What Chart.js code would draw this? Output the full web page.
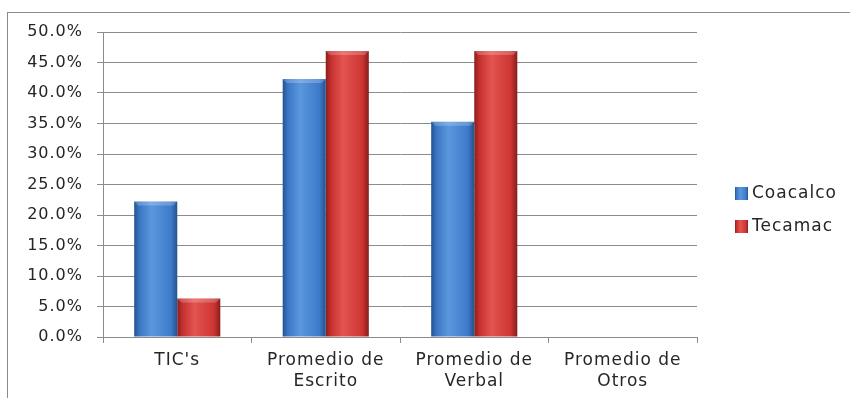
<!DOCTYPE html>
<html>
<head>
<meta charset="utf-8">
<script src="https://cdn.jsdelivr.net/npm/chart.js@4/dist/chart.umd.min.js"></script>
<style>
  html, body { margin: 0; padding: 0; background: #fff; overflow: hidden; }
  #frame {
    position: absolute; left: 7px; top: 12px; width: 900px; height: 450px;
    border: 1px solid #8a8a8a; box-sizing: border-box;
  }
  #wrap { position: absolute; left: 0; top: 0; width: 850px; height: 398px; }
</style>
</head>
<body>
<div id="frame"></div>
<div id="wrap"><canvas id="chart" width="850" height="398"></canvas></div>
<script>
const categories = [["TIC's"], ['Promedio de', 'Escrito'], ['Promedio de', 'Verbal'], ['Promedio de', 'Otros']];
const coacalco = [22.2, 42.3, 35.3, 0];
const tecamac = [6.3, 46.9, 46.9, 0];
const yTicks = [0, 5, 10, 15, 20, 25, 30, 35, 40, 45, 50];

const FONT = '"DejaVu Sans", Verdana, sans-serif';
const TEXT = '#262626';
const GRID = '#8c8c8c';
const CAT_PCT = 0.58;

// dark edge -> highlight -> dark edge, like the old office bevelled bars
const BLUE = ['#23538f', '#3a76c4', '#5b97dd', '#3d7bcb', '#24528c'];
const RED = ['#8a1e1e', '#c5302e', '#e45450', '#cc3532', '#871d1d'];

function hGradient(ctx2d, left, right, stops) {
  const g = ctx2d.createLinearGradient(left, 0, right, 0);
  g.addColorStop(0, stops[0]);
  g.addColorStop(0.12, stops[1]);
  g.addColorStop(0.4, stops[2]);
  g.addColorStop(0.85, stops[3]);
  g.addColorStop(1, stops[4]);
  return g;
}

function shadeBar(ctx, stops) {
  const chart = ctx.chart;
  const x = chart.scales.x;
  if (!x || !chart.chartArea || ctx.dataIndex === undefined) return stops[2];
  const center = x.getPixelForValue(ctx.dataIndex);
  const barW = (x.width / categories.length) * CAT_PCT / 2;
  const left = ctx.datasetIndex === 0 ? center - barW : center;
  return hGradient(chart.ctx, left, left + barW, stops);
}

// wider glyph spacing for all chart text
const spacing = {
  id: 'spacing',
  beforeLayout(chart) { chart.ctx.letterSpacing = '1px'; },
  beforeDraw(chart) { chart.ctx.letterSpacing = '1px'; }
};

// lighter strip on the top of each bar for the bevel look
const bevel = {
  id: 'bevel',
  afterDatasetsDraw(chart) {
    const c = chart.ctx;
    c.save();
    chart.data.datasets.forEach((ds, i) => {
      chart.getDatasetMeta(i).data.forEach(bar => {
        const h = bar.base - bar.y;
        if (h < 2) return;
        const w = bar.width;
        const left = bar.x - w / 2;
        c.fillStyle = 'rgba(255,255,255,0.22)';
        c.beginPath();
        c.moveTo(left, bar.y);
        c.lineTo(left + w, bar.y);
        c.lineTo(left + w - 4, bar.y + 4);
        c.lineTo(left + 4, bar.y + 4);
        c.closePath();
        c.fill();
      });
    });
    c.restore();
  }
};

// legend on the right, drawn by hand so it sits where it should
const sideLegend = {
  id: 'sideLegend',
  afterDraw(chart) {
    const c = chart.ctx;
    const items = [['Coacalco', BLUE], ['Tecamac', RED]];
    c.save();
    c.font = '17px ' + FONT;
    c.textBaseline = 'middle';
    items.forEach(([label, stops], i) => {
      const cy = 193 + i * 33;
      c.fillStyle = hGradient(c, 735, 748, stops);
      c.fillRect(735, cy - 6, 13, 13);
      c.fillStyle = TEXT;
      c.fillText(label, 752, cy + 1);
    });
    c.restore();
  }
};

new Chart(document.getElementById('chart'), {
  type: 'bar',
  data: {
    labels: categories,
    datasets: [
      { label: 'Coacalco', data: coacalco, backgroundColor: ctx => shadeBar(ctx, BLUE) },
      { label: 'Tecamac', data: tecamac, backgroundColor: ctx => shadeBar(ctx, RED) }
    ]
  },
  options: {
    responsive: false,
    animation: false,
    layout: { padding: { top: 32, right: 153, bottom: 0, left: 0 } },
    datasets: { bar: { categoryPercentage: CAT_PCT, barPercentage: 1, borderWidth: 0 } },
    plugins: { legend: { display: false }, tooltip: { enabled: false } },
    scales: {
      x: {
        offset: true,
        grid: { drawOnChartArea: false, drawTicks: true, tickLength: 6, offset: true, color: GRID },
        border: { color: GRID },
        ticks: { color: TEXT, font: { family: FONT, size: 17, lineHeight: 1.25 }, padding: 7, maxRotation: 0 },
        afterFit: s => { s.height = 61; }
      },
      y: {
        min: 0,
        max: 50,
        afterBuildTicks: s => { s.ticks = yTicks.map(v => ({ value: v })); },
        grid: { color: GRID, tickLength: 6 },
        border: { color: GRID },
        ticks: { color: TEXT, font: { family: FONT, size: 16 }, padding: 14, callback: v => v.toFixed(1) + '%' },
        afterFit: s => { s.width = 103; }
      }
    }
  },
  plugins: [spacing, bevel, sideLegend]
});
</script>
</body>
</html>
